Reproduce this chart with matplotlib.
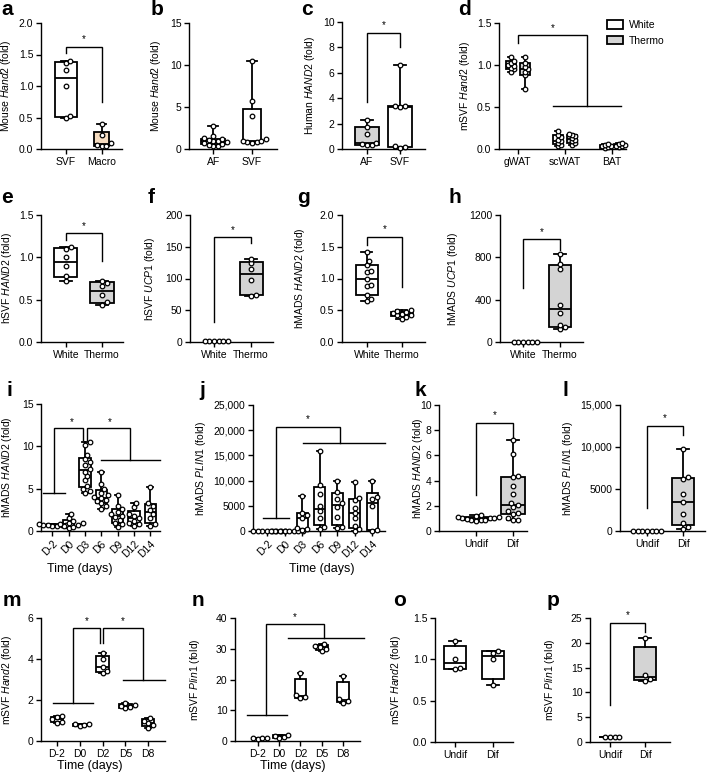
import numpy as np
import matplotlib
matplotlib.use('Agg')
import matplotlib.pyplot as plt
from matplotlib.patches import Patch

plt.rcParams['font.family'] = ['Liberation Sans', 'DejaVu Sans']
plt.rcParams['mathtext.fontset'] = 'custom'
plt.rcParams['mathtext.rm'] = 'Liberation Sans'
plt.rcParams['mathtext.it'] = 'Liberation Sans:italic'

# ---- data ----
a_groups = ['SVF', 'Macro']
a_svf = [0.49, 0.52, 1.00, 1.25, 1.37, 1.39]
a_macro = [0.04, 0.05, 0.06, 0.09, 0.22, 0.40]

b_groups = ['AF', 'SVF']
b_af = [0.3, 0.4, 0.5, 0.6, 0.7, 0.8, 0.9, 1.0, 1.1, 1.2, 1.3, 1.6, 2.7]
b_svf = [0.7, 0.8, 0.8, 0.9, 1.0, 1.2, 3.9, 5.7, 10.5]

c_groups = ['AF', 'SVF']
c_af = [0.3, 0.35, 0.4, 0.45, 1.2, 1.7, 2.3]
c_svf = [0.1, 0.15, 0.2, 3.3, 3.4, 3.4, 6.6]

d_tissues = ['gWAT', 'scWAT', 'BAT']
d_white = [[0.92, 0.95, 0.97, 0.99, 1.00, 1.02, 1.05, 1.09],
           [0.03, 0.05, 0.07, 0.09, 0.11, 0.14, 0.17, 0.22],
           [0.01, 0.02, 0.03, 0.04, 0.05, 0.06]]
d_thermo = [[0.72, 0.88, 0.92, 0.95, 0.98, 1.02, 1.09],
            [0.05, 0.07, 0.09, 0.11, 0.13, 0.15, 0.17, 0.18],
            [0.02, 0.03, 0.04, 0.05, 0.06, 0.07]]

wt_groups = ['White', 'Thermo']
e_white = [0.72, 0.78, 0.90, 1.00, 1.10, 1.12]
e_thermo = [0.44, 0.47, 0.55, 0.66, 0.70, 0.72]
f_white = [0.8, 0.9, 1.0, 1.0, 1.1, 1.2]
f_thermo = [72, 74, 98, 115, 124, 131]
g_white = [0.64, 0.68, 0.74, 0.88, 0.89, 1.0, 1.1, 1.12, 1.21, 1.27, 1.42]
g_thermo = [0.37, 0.40, 0.42, 0.43, 0.44, 0.45, 0.47, 0.49, 0.50]
h_white = [0.8, 0.9, 1.0, 1.0, 1.1, 1.2]
h_thermo = [120, 140, 165, 275, 345, 690, 735, 830]

i_days = ['D-2', 'D0', 'D3', 'D6', 'D9', 'D12', 'D14']
i_values = [[0.55, 0.6, 0.65, 0.7, 0.7, 0.75, 0.8, 0.85],
            [0.3, 0.5, 0.6, 0.7, 0.8, 0.9, 1.0, 1.2, 1.5, 2.0],
            [4.5, 4.7, 5.0, 5.3, 6.0, 6.5, 7.0, 7.3, 7.8, 8.2, 8.5, 9.0, 10.2, 10.5],
            [2.6, 3.0, 3.3, 3.5, 3.7, 3.9, 4.0, 4.2, 4.5, 5.0, 5.5, 7.0],
            [0.5, 0.8, 1.0, 1.3, 1.6, 1.8, 2.0, 2.3, 2.6, 3.0, 4.3],
            [0.6, 0.8, 1.0, 1.2, 1.5, 1.8, 2.0, 2.8, 3.3],
            [0.6, 0.8, 1.5, 2.0, 2.5, 3.0, 3.3, 5.2]]

j_days = ['D-2', 'D0', 'D3', 'D6', 'D9', 'D12', 'D14']
j_values = [[5, 10, 15, 20, 25, 30, 40, 50],
            [5, 10, 15, 20, 30, 35, 45, 60],
            [100, 300, 600, 2500, 3200, 3500, 7000],
            [300, 800, 2500, 4000, 4900, 7400, 9100, 15900],
            [500, 700, 2800, 4800, 5500, 6400, 7800, 10000],
            [0, 300, 900, 2500, 3500, 4500, 6200, 6500, 9800],
            [0, 200, 5000, 6300, 6800, 10000]]

ud_groups = ['Undif', 'Dif']
k_undif = [0.8, 0.85, 0.9, 0.9, 0.95, 1.0, 1.0, 1.05, 1.1, 1.1, 1.2, 1.25]
k_dif = [0.85, 0.9, 1.0, 1.35, 1.4, 1.6, 1.9, 2.1, 2.2, 2.9, 3.6, 4.3, 4.4, 6.1, 7.2]
l_undif = [0.8, 0.9, 1.0, 1.0, 1.0, 1.1, 1.2]
l_dif = [200, 500, 900, 2000, 3400, 4400, 6200, 6400, 9800]

m_days = ['D-2', 'D0', 'D2', 'D5', 'D8']
m_values = [[0.9, 0.95, 1.05, 1.15, 1.2],
            [0.72, 0.78, 0.82, 0.85],
            [3.3, 3.4, 3.6, 4.0, 4.3],
            [1.6, 1.65, 1.7, 1.75, 1.85],
            [0.65, 0.8, 0.9, 1.0, 1.1]]
n_days = ['D-2', 'D0', 'D2', 'D5', 'D8']
n_values = [[0.8, 1.0, 1.0, 1.1],
            [0.9, 1.2, 1.5, 2.0],
            [14.0, 14.3, 14.8, 22.0],
            [29.2, 30.0, 30.5, 31.0, 31.5],
            [12.5, 13.0, 13.5, 21.0]]

o_undif = [0.88, 0.90, 1.0, 1.22]
o_dif = [0.69, 1.0, 1.08, 1.1]
p_undif = [1.0, 1.0, 1.0, 1.0]
p_dif = [12.3, 12.7, 13.5, 21.0]

# ---- helpers ----
W, H = 707, 775
fig = plt.figure(figsize=(W / 100, H / 100), dpi=100)
GRAY = '#d4d4d4'
PEACH = '#f6dcc0'
FS = 7.5


def panel(l, t, r, b, xlim, ytop, yticks, yticklabels=None):
    ax = fig.add_axes([l / W, 1 - b / H, (r - l) / W, (b - t) / H])
    ax.set_xlim(*xlim)
    ax.set_ylim(0, ytop)
    ax.spines['top'].set_visible(False)
    ax.spines['right'].set_visible(False)
    ax.spines['left'].set_linewidth(1.0)
    ax.spines['bottom'].set_linewidth(1.0)
    ax.set_yticks(yticks)
    if yticklabels is not None:
        ax.set_yticklabels(yticklabels)
    ax.tick_params(length=3.5, width=1.0, labelsize=FS, pad=2)
    ax.px = ((r - l) / (xlim[1] - xlim[0]), (b - t) / ytop, l, t, r, b)
    return ax


def swarm(vals, ax, d=4.6):
    sx, sy = ax.px[0], ax.px[1]
    ys = np.asarray(vals, float) * sy
    offs = np.zeros(len(ys))
    placed = []
    steps = [0.0] + [s * k * d * 0.5 for k in range(1, 40) for s in (1, -1)]
    for i in np.argsort(ys):
        for c in steps:
            if all((c - px) ** 2 + (ys[i] - py) ** 2 >= 0.9 * d * d for px, py in placed):
                break
        placed.append((c, ys[i]))
        offs[i] = c / sx
    return offs


def boxes(ax, groups, pos, colors, width, lw=1.3, gap=4.6):
    stats = []
    for g in groups:
        v = np.asarray(g, float)
        q1, med, q3 = np.percentile(v, [25, 50, 75], method='weibull')
        stats.append(dict(med=med, q1=q1, q3=q3, whislo=v.min(), whishi=v.max(), fliers=[]))
    bp = ax.bxp(stats, positions=pos, widths=width, patch_artist=True, showfliers=False,
                manage_ticks=False, capwidths=np.atleast_1d(width).mean() * 0.5,
                boxprops=dict(lw=lw, edgecolor='black'), whiskerprops=dict(lw=lw),
                capprops=dict(lw=lw), medianprops=dict(color='black', lw=lw))
    for patch, c in zip(bp['boxes'], colors):
        patch.set_facecolor(c)
    for g, p in zip(groups, pos):
        ax.scatter(p + swarm(g, ax, gap), g, s=11, facecolor='white', edgecolor='black',
                   linewidths=0.9, zorder=4, clip_on=False)


def bracket(ax, xs, ys, star=None):
    ax.plot(xs, ys, color='black', lw=1.0, clip_on=False, solid_joinstyle='miter')
    if star is not None:
        ax.text(star[0], star[1], '*', ha='center', va='center', fontsize=7)


def pair_bracket(ax, y1, yt, y2, ys):
    bracket(ax, [0, 0, 1, 1], [y1, yt, yt, y2], star=(0.5, ys))


def ylab(ax, text, right_px):
    l, r = ax.px[2], ax.px[4]
    ax.set_ylabel(text, fontsize=FS)
    ax.yaxis.set_label_coords((right_px - l) / (r - l), 0.5)


def xlab(ax, text, xc_px, top_px):
    l, t, r, b = ax.px[2:]
    ax.set_xlabel(text, fontsize=9)
    ax.xaxis.set_label_coords((xc_px - l) / (r - l), -(top_px - b) / (b - t))


def cats(ax, labels, rot=False):
    ax.set_xticks(range(len(labels)))
    if rot:
        ax.set_xticklabels(labels, rotation=45, ha='right', rotation_mode='anchor')
    else:
        ax.set_xticklabels(labels)


# ---- a ----
ax = panel(41, 23, 122, 149, (-0.69, 1.56), 2.0, [0, 0.5, 1.0, 1.5, 2.0], ['0.0', '0.5', '1.0', '1.5', '2.0'])
boxes(ax, [a_svf, a_macro], [0, 1], ['white', PEACH], [0.6, 0.42])
cats(ax, a_groups)
pair_bracket(ax, 1.53, 1.62, 0.75, 1.74)
ylab(ax, 'Mouse $\\mathit{Hand2}$ (fold)', 13.5)

# ---- b ----
ax = panel(189, 23, 277, 149, (-0.62, 1.64), 15, [0, 5, 10, 15])
boxes(ax, [b_af, b_svf], [0, 1], ['white', 'white'], [0.6, 0.47])
cats(ax, b_groups)
ylab(ax, 'Mouse $\\mathit{Hand2}$ (fold)', 163)

# ---- c ----
ax = panel(342, 22, 425, 149, (-0.76, 1.76), 10, [0, 2, 4, 6, 8, 10])
boxes(ax, [c_af, c_svf], [0, 1], [GRAY, 'white'], 0.72)
cats(ax, c_groups)
pair_bracket(ax, 3.7, 9.1, 8.0, 9.75)
ylab(ax, 'Human $\\mathit{HAND2}$ (fold)', 317)

# ---- d ----
ax = panel(499, 23, 626, 149, (-0.40, 2.30), 1.5, [0, 0.5, 1.0, 1.5], ['0.0', '0.5', '1.0', '1.5'])
pos = np.arange(len(d_tissues))
boxes(ax, d_white, pos - 0.15, ['white'] * 3, 0.22, gap=3.2)
boxes(ax, d_thermo, pos + 0.15, [GRAY] * 3, 0.22, gap=3.2)
cats(ax, d_tissues)
bracket(ax, [0, 0, 1.47, 1.47], [1.26, 1.36, 1.36, 0.51], star=(0.745, 1.44))
bracket(ax, [0.745, 2.19], [0.51, 0.51])
ylab(ax, 'mSVF $\\mathit{Hand2}$ (fold)', 472)
handles = [Patch(facecolor='white', edgecolor='black', lw=1.3, label='White'),
           Patch(facecolor=GRAY, edgecolor='black', lw=1.3, label='Thermo')]
fig.legend(handles=handles, loc='upper left', bbox_to_anchor=(607 / W, 1 - 20 / H), frameon=False,
           fontsize=FS, handlelength=1.5, handleheight=0.9, handletextpad=0.6, labelspacing=0.55,
           borderaxespad=0, borderpad=0)

# ---- e ----
ax = panel(41, 215, 123, 342, (-0.69, 1.58), 1.5, [0, 0.5, 1.0, 1.5], ['0.0', '0.5', '1.0', '1.5'])
boxes(ax, [e_white, e_thermo], [0, 1], ['white', GRAY], 0.64)
cats(ax, wt_groups)
pair_bracket(ax, 1.20, 1.29, 0.96, 1.37)
ylab(ax, 'hSVF $\\mathit{HAND2}$ (fold)', 13.5)

# ---- f ----
ax = panel(190, 215, 273, 342, (-0.65, 1.59), 200, [0, 50, 100, 150, 200])
boxes(ax, [f_white, f_thermo], [0, 1], ['white', GRAY], 0.62)
cats(ax, wt_groups)
pair_bracket(ax, 31, 165, 156, 177)
ylab(ax, 'hSVF $\\mathit{UCP1}$ (fold)', 157)

# ---- g ----
ax = panel(342, 215, 425, 342, (-0.71, 1.66), 2.0, [0, 0.5, 1.0, 1.5, 2.0], ['0.0', '0.5', '1.0', '1.5', '2.0'])
boxes(ax, [g_white, g_thermo], [0, 1], ['white', GRAY], 0.64)
cats(ax, wt_groups)
pair_bracket(ax, 1.53, 1.65, 0.87, 1.78)
ylab(ax, 'hMADS $\\mathit{HAND2}$ (fold)', 307)

# ---- h ----
ax = panel(500, 215, 583, 342, (-0.62, 1.62), 1200, [0, 400, 800, 1200])
boxes(ax, [h_white, h_thermo], [0, 1], ['white', GRAY], 0.6)
cats(ax, wt_groups)
pair_bracket(ax, 510, 973, 870, 1040)
ylab(ax, 'hMADS $\\mathit{UCP1}$ (fold)', 460)

# ---- i ----
ax = panel(41, 404, 160, 531, (-0.7, 6.6), 15, [0, 5, 10, 15])
boxes(ax, i_values, range(len(i_days)), ['white'] * len(i_days), 0.7)
cats(ax, i_days, rot=True)
bracket(ax, [-0.55, 0.8], [4.5, 4.5])
bracket(ax, [0.12, 0.12, 1.9, 1.9], [4.5, 12.2, 12.2, 10.8], star=(1.2, 12.9))
bracket(ax, [2.1, 2.1, 4.75, 4.75], [10.8, 12.2, 12.2, 8.4], star=(3.5, 12.9))
bracket(ax, [3.0, 6.6], [8.4, 8.4])
ylab(ax, 'hMADS $\\mathit{HAND2}$ (fold)', 14)
xlab(ax, 'Time (days)', 80, 563)

# ---- j ----
ax = panel(253, 405, 385, 531, (-0.8, 6.74), 25000, [0, 5000, 10000, 15000, 20000, 25000],
           ['0', '5000', '10,000', '15,000', '20,000', '25,000'])
boxes(ax, j_values, range(len(j_days)), ['white'] * len(j_days), 0.63)
cats(ax, j_days, rot=True)
bracket(ax, [-0.23, 1.26], [2500, 2500])
bracket(ax, [0.52, 0.52, 4.17, 4.17], [2500, 20600, 20600, 17500], star=(2.3, 22200))
bracket(ax, [2.06, 6.74], [17500, 17500])
ylab(ax, 'hMADS $\\mathit{PLIN1}$ (fold)', 208)
xlab(ax, 'Time (days)', 322, 563)

# ---- k ----
ax = panel(439, 405, 527, 531, (-1.0, 1.38), 10, [0, 2, 4, 6, 8, 10])
boxes(ax, [k_undif, k_dif], [0, 1], ['white', GRAY], 0.65)
cats(ax, ud_groups)
pair_bracket(ax, 2.86, 8.57, 7.2, 9.2)
ylab(ax, 'hMADS $\\mathit{HAND2}$ (fold)', 425)

# ---- l ----
ax = panel(620, 405, 705, 531, (-0.75, 1.61), 15000, [0, 5000, 10000, 15000], ['0', '5000', '10,000', '15,000'])
boxes(ax, [l_undif, l_dif], [0, 1], ['white', GRAY], 0.62)
cats(ax, ud_groups)
pair_bracket(ax, 2740, 12500, 11400, 13400)
ylab(ax, 'hMADS $\\mathit{PLIN1}$ (fold)', 575)

# ---- m ----
ax = panel(41, 618, 165, 741, (-0.7, 4.74), 6, [0, 2, 4, 6])
boxes(ax, m_values, range(len(m_days)), ['white'] * len(m_days), 0.55)
cats(ax, m_days)
bracket(ax, [-0.17, 1.57], [1.87, 1.87])
bracket(ax, [0.7, 0.7, 1.87, 1.87], [1.87, 5.5, 5.5, 4.8], star=(1.3, 5.85))
bracket(ax, [2.0, 2.0, 3.78, 3.78], [4.8, 5.5, 5.5, 3.0], star=(2.9, 5.85))
bracket(ax, [2.9, 4.74], [3.0, 3.0])
ylab(ax, 'mSVF $\\mathit{Hand2}$ (fold)', 14)
xlab(ax, 'Time (days)', 90, 760)

# ---- n ----
ax = panel(235, 618, 360, 741, (-1.07, 4.79), 40, [0, 10, 20, 30, 40])
boxes(ax, n_values, range(len(n_days)), ['white'] * len(n_days), 0.55)
cats(ax, n_days)
bracket(ax, [-0.5, 1.35], [8.5, 8.5])
bracket(ax, [0.37, 0.37, 3.1, 3.1], [8.5, 38, 38, 33.5], star=(1.72, 40.3))
bracket(ax, [1.4, 5.0], [33.5, 33.5])
ylab(ax, 'mSVF $\\mathit{Plin1}$ (fold)', 202)
xlab(ax, 'Time (days)', 293, 760)

# ---- o ----
ax = panel(435, 618, 513, 742, (-0.53, 1.53), 1.5, [0, 0.5, 1.0, 1.5], ['0.0', '0.5', '1.0', '1.5'])
boxes(ax, [o_undif, o_dif], [0, 1], ['white', 'white'], 0.6)
cats(ax, ud_groups)
ylab(ax, 'mSVF $\\mathit{Hand2}$ (fold)', 403)

# ---- p ----
ax = panel(590, 618, 670, 742, (-0.57, 1.71), 25, [0, 5, 10, 15, 20, 25])
boxes(ax, [p_undif, p_dif], [0, 1], ['white', GRAY], 0.65)
cats(ax, ud_groups)
pair_bracket(ax, 7.5, 24.0, 22.2, 25.6)
ylab(ax, 'mSVF $\\mathit{Plin1}$ (fold)', 557)

# ---- panel letters ----
letters = [('a', 1, 15), ('b', 151, 15), ('c', 301, 15), ('d', 458, 15),
           ('e', 1, 203), ('f', 148, 203), ('g', 297, 203), ('h', 448, 203),
           ('i', 6, 396), ('j', 199, 396), ('k', 415, 396), ('l', 562, 396),
           ('m', 3, 606), ('n', 192, 606), ('o', 393, 606), ('p', 547, 606)]
for s, x, y in letters:
    fig.text(x / W, 1 - y / H, s, fontsize=15, fontweight='bold', va='baseline')

fig.savefig('out.png', dpi=100)
